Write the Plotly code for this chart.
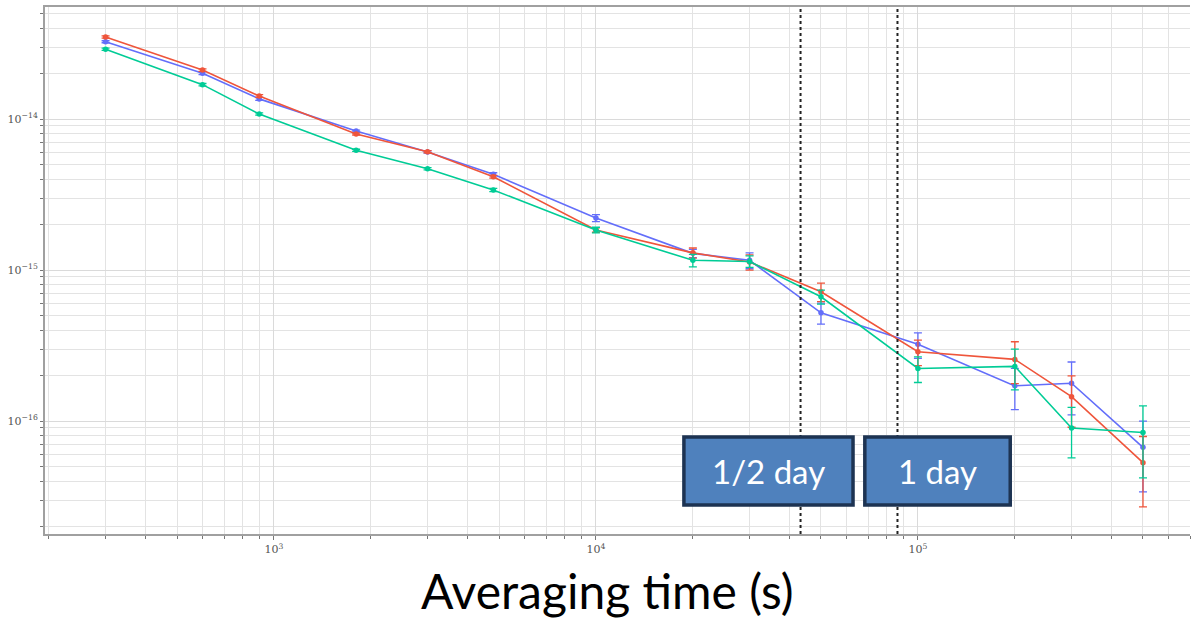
import plotly.graph_objects as go

# Averaging times (s)
tau = [300, 600, 900, 1800, 3000, 4800, 10000, 20000, 30000, 50000, 100000, 200000, 300000, 500000]

# Series values (Allan deviation)
red = [3.49e-14, 2.11e-14, 1.42e-14, 7.96e-15, 6.08e-15, 4.15e-15, 1.84e-15, 1.30e-15, 1.13e-15,
       7.18e-16, 2.88e-16, 2.56e-16, 1.45e-16, 5.3e-17]
blue = [3.25e-14, 2.01e-14, 1.36e-14, 8.33e-15, 6.05e-15, 4.31e-15, 2.21e-15, 1.29e-15, 1.16e-15,
        5.21e-16, 3.22e-16, 1.71e-16, 1.78e-16, 6.7e-17]
green = [2.90e-14, 1.69e-14, 1.08e-14, 6.21e-15, 4.69e-15, 3.39e-15, 1.84e-15, 1.16e-15, 1.14e-15,
         6.65e-16, 2.23e-16, 2.30e-16, 9.0e-17, 8.4e-17]

# Error bars (symmetric, data units)
red_err = [0.06e-14, 0.04e-14, 0.03e-14, 0.12e-15, 0.10e-15, 0.09e-15, 0.06e-15, 0.10e-15, 0.13e-15,
           1.0e-16, 0.55e-16, 0.79e-16, 0.54e-16, 2.6e-17]
blue_err = [0.05e-14, 0.04e-14, 0.03e-14, 0.12e-15, 0.10e-15, 0.10e-15, 0.12e-15, 0.08e-15, 0.14e-15,
            0.83e-16, 0.62e-16, 0.52e-16, 0.68e-16, 3.3e-17]
green_err = [0.05e-14, 0.03e-14, 0.02e-14, 0.10e-15, 0.08e-15, 0.08e-15, 0.08e-15, 0.11e-15, 0.10e-15,
             0.71e-16, 0.43e-16, 0.69e-16, 0.33e-16, 4.2e-17]

half_day = 43200
one_day = 86400

# Tick positions and labels
x_tickvals = [1e3, 1e4, 1e5]
x_ticktext = ["10<sup>3</sup>", "10<sup>4</sup>", "10<sup>5</sup>"]
y_tickvals = [1e-16, 1e-15, 1e-14]
y_ticktext = ["10<sup>\u221216</sup>", "10<sup>\u221215</sup>", "10<sup>\u221214</sup>"]

# Minor grid positions (2..9 x each decade)
digits = [2, 3, 4, 5, 6, 7, 8, 9]
x_decades = [100, 1000, 10000, 100000]
y_decades = [1e-17, 1e-16, 1e-15, 1e-14]
x_minor = [d * p for p in x_decades for d in digits]
y_minor = [d * p for p in y_decades for d in digits]

series = [
    ("blue", blue, blue_err, "#636efa"),
    ("red", red, red_err, "#EF553B"),
    ("green", green, green_err, "#00cc96"),
]

fig = go.Figure()
for name, vals, errs, col in series:
    fig.add_trace(go.Scatter(
        x=tau, y=vals, name=name, mode="lines+markers",
        line=dict(color=col, width=1.6),
        marker=dict(color=col, size=5.5),
        error_y=dict(type="data", array=errs, symmetric=True, color=col,
                     thickness=1.3, width=4),
        showlegend=False,
    ))

for xv in (half_day, one_day):
    fig.add_shape(type="line", xref="x", yref="paper", x0=xv, x1=xv, y0=0, y1=1,
                  line=dict(color="#222222", width=2, dash="dot"))

grid = "#e3e3e3"
fig.update_xaxes(
    type="log", range=[2.289, 5.845], tickmode="array",
    tickvals=x_tickvals, ticktext=x_ticktext,
    showgrid=True, gridcolor="#dadada", gridwidth=1,
    minor=dict(showgrid=True, gridcolor=grid, tickvals=x_minor, ticks="outside",
               ticklen=3, tickcolor="#777"),
    ticks="outside", ticklen=4, tickcolor="#777",
    showline=True, linecolor="#a0a0a0", linewidth=2, mirror=True,
    zeroline=False, automargin=False,
    tickfont=dict(size=11, color="#555", family="DejaVu Serif"),
)
fig.update_yaxes(
    type="log", range=[-16.748, -13.258], tickmode="array",
    tickvals=y_tickvals, ticktext=y_ticktext,
    showgrid=True, gridcolor="#dadada", gridwidth=1,
    minor=dict(showgrid=True, gridcolor=grid, tickvals=y_minor, ticks="outside",
               ticklen=3, tickcolor="#777"),
    ticks="outside", ticklen=3, tickcolor="#777",
    showline=True, linecolor="#a0a0a0", linewidth=2,
    zeroline=False, automargin=False,
    tickfont=dict(size=11, color="#555", family="DejaVu Serif"),
)

# Label boxes
boxes = [("1/2 day", 0.558, 0.7057), ("1 day", 0.716, 0.843)]
for text, x0, x1 in boxes:
    fig.add_shape(type="rect", xref="paper", yref="paper", x0=x0, x1=x1, y0=0.055, y1=0.184,
                  fillcolor="#4f81bd", line=dict(color="#1d3352", width=3.5), layer="above")
    fig.add_annotation(xref="paper", yref="paper", x=(x0 + x1) / 2, y=0.1195, text=text,
                       showarrow=False, font=dict(family="Lato", size=33, color="white"),
                       xanchor="center", yanchor="middle")

fig.add_annotation(xref="paper", yref="paper", x=0.491, y=-0.108, text="Averaging time (s)",
                   showarrow=False, font=dict(family="Lato", size=48, color="black"),
                   xanchor="center", yanchor="middle")

fig.update_layout(
    width=1194, height=621,
    margin=dict(l=45, r=4, t=7, b=87),
    plot_bgcolor="white", paper_bgcolor="white",
    font=dict(family="Open Sans"),
)

fig.write_html("out.html")
